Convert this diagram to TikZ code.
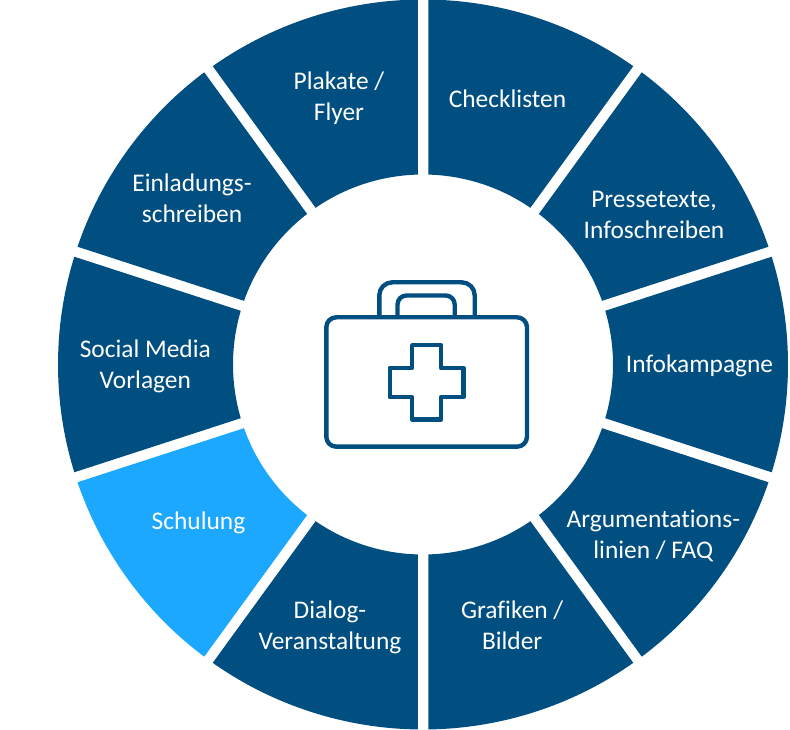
\documentclass[tikz,border=0pt]{standalone}
\usepackage{fontspec}
\setmainfont[Ligatures=NoCommon]{Carlito}
\definecolor{darkseg}{HTML}{004F80}
\definecolor{lightseg}{HTML}{1CA8FF}
\tikzset{
  seglabel/.style={text=white,align=center,inner sep=0pt,font=\fontsize{25.4}{30.5}\selectfont,
    execute at begin node={\rule{0pt}{18pt}},execute at end node={\rule[-6pt]{0pt}{6pt}}},
  iconline/.style={draw=darkseg,line width=4.4pt,line join=round}
}
\begin{document}
\begin{tikzpicture}[x=1pt,y=1pt]
\useasboundingbox (0,0) rectangle (790,729);
\def\Ro{365}\def\Ri{190}\def\dO{0.824}\def\dI{1.583}
\begin{scope}[shift={(423pt,364.5pt)}]
\foreach \a/\col in {90/darkseg,126/darkseg,162/darkseg,198/lightseg,234/darkseg,270/darkseg,306/darkseg,342/darkseg,18/darkseg,54/darkseg}{
  \pgfmathsetmacro{\aA}{\a+\dO}
  \pgfmathsetmacro{\aB}{\a+36-\dO}
  \pgfmathsetmacro{\aC}{\a+36-\dI}
  \pgfmathsetmacro{\aD}{\a+\dI}
  \fill[\col] (\aA:\Ro pt) arc[start angle=\aA,end angle=\aB,radius=\Ro pt]
     -- (\aC:\Ri pt) arc[start angle=\aC,end angle=\aD,radius=\Ri pt] -- cycle;
}
\end{scope}
\begin{scope}[shift={(0pt,729pt)},y=-1pt]
\node[seglabel] (plakate) at (339,99.25) {Plakate /\\Flyer};
\node[seglabel] (check) at (507.5,102) {Checklisten};
\node[seglabel] (presse) at (654,218) {Pressetexte,\\Infoschreiben};
\node[seglabel] (info) at (699.5,366.3) {Infokampagne};
\node[seglabel] (argu) at (653.3,537.25) {Argumentations-\\linien / FAQ};
\node[seglabel] (graf) at (512.2,628) {Grafiken /\\Bilder};
\node[seglabel] (dialog) at (330,628) {Dialog-\\Veranstaltung};
\node[seglabel] (schulung) at (198.5,523.5) {Schulung};
\node[seglabel] (social) at (145.3,367.4) {Social Media\\Vorlagen};
\node[seglabel] (einl) at (192,201.25) {Einladungs-\\schreiben};
% icon
\draw[iconline,rounded corners=10pt] (326.3,317.3) rectangle (527,446.7);
\draw[iconline,rounded corners=13pt] (379.3,317.3) -- (379.3,282.3) -- (474.7,282.3) -- (474.7,317.3);
\draw[iconline,rounded corners=9pt] (397.5,317.3) -- (397.5,295.5) -- (454.7,295.5) -- (454.7,317.3);
\draw[iconline] (412.2,345.2) -- (441,345.2) -- (441,367.9) -- (463.5,367.9) -- (463.5,397.1) -- (441,397.1) -- (441,419.5) -- (412.2,419.5) -- (412.2,397.1) -- (389.7,397.1) -- (389.7,367.9) -- (412.2,367.9) -- cycle;
\end{scope}
\end{tikzpicture}
\end{document}
